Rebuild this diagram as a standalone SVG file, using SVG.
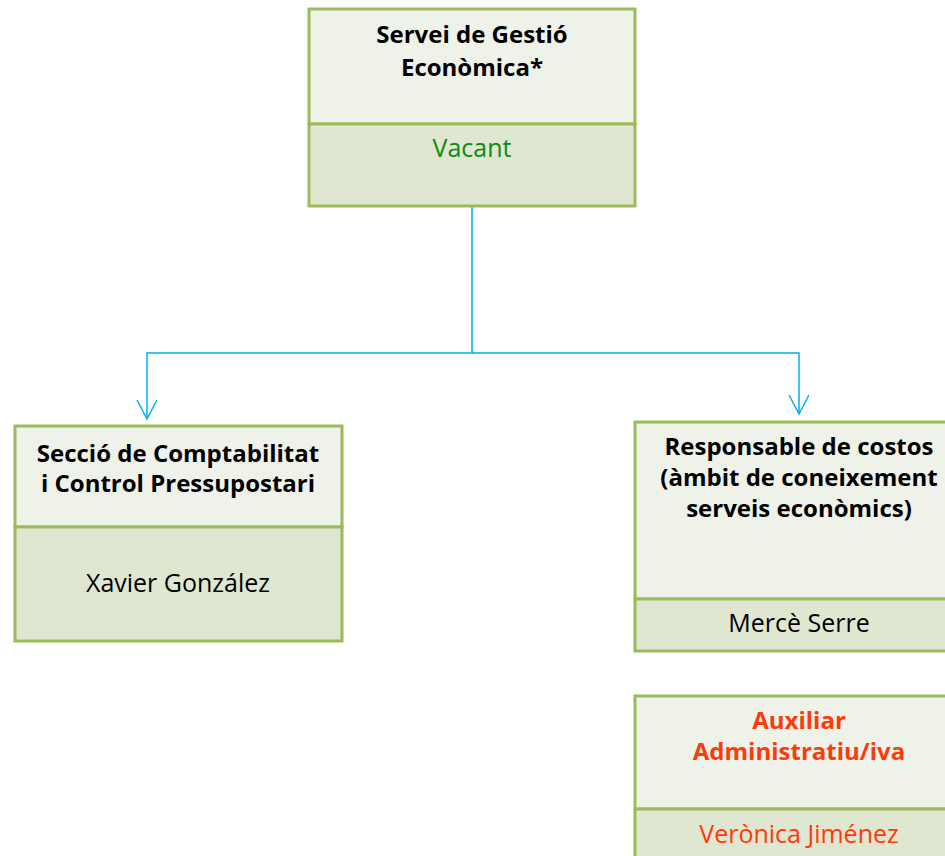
<svg xmlns="http://www.w3.org/2000/svg" width="945" height="856" viewBox="0 0 945 856">
<defs>
<style>
.hd{fill:#eff2e9;stroke:#9bbb59;stroke-width:3}
.bd{fill:#dfe7d1;stroke:#9bbb59;stroke-width:3}
.t{font-family:"Open Sans",Lato,sans-serif;font-size:24px;font-weight:bold;text-anchor:middle;fill:#000}
.n{font-family:"Open Sans",Lato,sans-serif;font-size:25px;text-anchor:middle;fill:#000}
.red{fill:#ff3a0a}
.grn{fill:#0e8a12}
.c{fill:none;stroke:#00b0f0;stroke-width:1.5}
</style>
<marker id="ah" markerWidth="24" markerHeight="24" refX="20" refY="10" orient="auto" markerUnits="userSpaceOnUse" viewBox="0 0 24 24">
<path d="M1,0 L20,10 L1,20" fill="none" stroke="#00b0f0" stroke-width="1.5"/>
</marker>
</defs>
<rect width="945" height="856" fill="#fff"/>
<g id="connectors">
<path class="c" d="M472,206 V353 H147 V419" marker-end="url(#ah)"/>
<path class="c" d="M472,353 H799 V414" marker-end="url(#ah)"/>
</g>
<g id="node-servei">
<rect class="hd" x="309" y="9" width="326" height="115"/>
<rect class="bd" x="309" y="124" width="326" height="82"/>
<text class="t" x="472" y="43">Servei de Gestió</text>
<text class="t" x="472" y="76">Econòmica*</text>
<text class="n grn" x="472" y="157">Vacant</text>
</g>
<g id="node-seccio">
<rect class="hd" x="15" y="426" width="327" height="101"/>
<rect class="bd" x="15" y="527" width="327" height="114"/>
<text class="t" x="178" y="462">Secció de Comptabilitat</text>
<text class="t" x="178" y="492">i Control Pressupostari</text>
<text class="n" x="178" y="592">Xavier González</text>
</g>
<g id="node-costos">
<rect class="hd" x="635" y="422" width="330" height="177"/>
<rect class="bd" x="635" y="599" width="330" height="52"/>
<text class="t" x="799" y="455">Responsable de costos</text>
<text class="t" x="799" y="486">(àmbit de coneixement</text>
<text class="t" x="799" y="517">serveis econòmics)</text>
<text class="n" x="799" y="632">Mercè Serre</text>
</g>
<g id="node-auxiliar">
<rect class="hd" x="635" y="696" width="330" height="113"/>
<rect class="bd" x="635" y="809" width="330" height="70"/>
<text class="t red" x="799" y="729">Auxiliar</text>
<text class="t red" x="799" y="760">Administratiu/iva</text>
<text class="n red" x="799" y="843">Verònica Jiménez</text>
</g>
</svg>
